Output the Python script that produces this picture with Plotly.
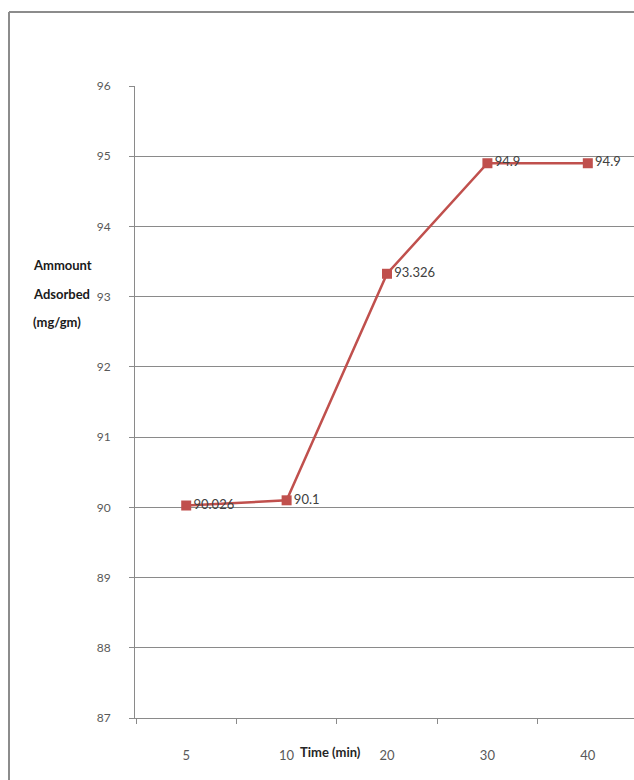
import plotly.graph_objects as go

# Adsorption vs contact time
time_labels = ["5", "10", "20", "30", "40"]
amount_adsorbed = [90.026, 90.1, 93.326, 94.9, 94.9]
y_ticks = [87, 88, 89, 90, 91, 92, 93, 94, 95, 96]

W, H = 634, 780
L, R, T, B = 135, 0, 86, 62
pw, ph = W - L - R, H - T - B


def px_x(x):
    return (x - L) / pw


def px_y(y):
    return 1 - (y - T) / ph


FONT = "Lato, Open Sans, sans-serif"
RED = "#C0504D"
GRID = "#8a8a8a"

fig = go.Figure()
fig.add_trace(go.Scatter(
    x=time_labels,
    y=amount_adsorbed,
    mode="lines+markers+text",
    line=dict(color=RED, width=2.5),
    marker=dict(symbol="square", size=10, color=RED),
    text=[f"{v:g}" for v in amount_adsorbed],
    textposition="middle right",
    textfont=dict(family=FONT, size=13, color="#404040"),
    cliponaxis=False,
    showlegend=False,
))

fig.update_layout(
    width=W, height=H,
    margin=dict(l=L, r=R, t=T, b=B),
    paper_bgcolor="white",
    plot_bgcolor="white",
    font=dict(family=FONT, size=12, color="#595959"),
    xaxis=dict(
        type="category",
        range=[-0.51, 4.46],
        showgrid=False,
        showline=True, linecolor=GRID, linewidth=1,
        ticks="outside", tickson="boundaries", ticklen=5, tickcolor=GRID,
        tickfont=dict(family=FONT, size=13, color="#595959"),
        ticklabelstandoff=25,
    ),
    yaxis=dict(
        range=[87, 96],
        tickvals=y_ticks,
        showgrid=True, gridcolor=GRID, gridwidth=1,
        showline=True, linecolor=GRID, linewidth=1,
        ticks="outside", ticklen=5, tickcolor=GRID,
        tickfont=dict(family=FONT, size=12, color="#595959"),
        ticklabelstandoff=16,
        zeroline=False,
    ),
)

# Axis titles
fig.add_annotation(
    x=px_x(330), y=px_y(752), xref="paper", yref="paper",
    text="<b>Time (min)</b>", showarrow=False,
    font=dict(family=FONT, size=13, color="#262626"),
    xanchor="center", yanchor="middle",
)
for text, ypix in [("Ammount", 265), ("Adsorbed", 294), ("(mg/gm)", 322)]:
    fig.add_annotation(
        x=px_x(31), y=px_y(ypix), xref="paper", yref="paper",
        text=f"<b>{text}</b>", showarrow=False,
        font=dict(family=FONT, size=13, color="#1a1a1a"),
        xanchor="left", yanchor="middle",
    )

# Chart frame (left and top edges)
frame = dict(color="#8c8c8c", width=2)
fig.add_shape(type="line", xref="paper", yref="paper",
              x0=px_x(9), y0=px_y(12), x1=px_x(9), y1=px_y(H + 5), line=frame)
fig.add_shape(type="line", xref="paper", yref="paper",
              x0=px_x(9), y0=px_y(12), x1=px_x(W + 5), y1=px_y(12), line=frame)

fig.write_html("out.html")
